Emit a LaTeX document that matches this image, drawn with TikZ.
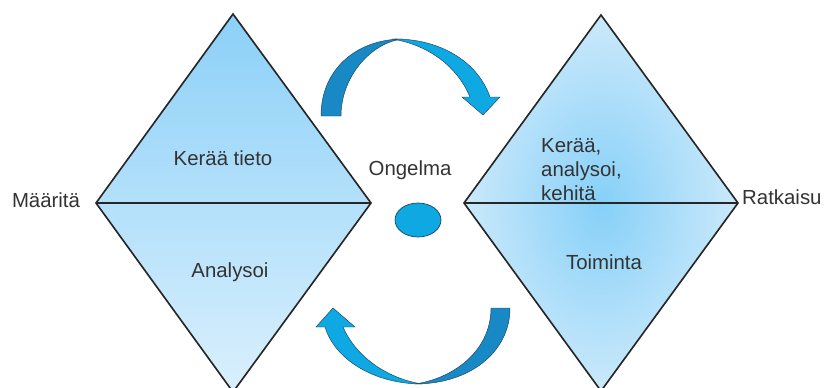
\documentclass[tikz,border=0pt]{standalone}
\usepackage{fontspec}
\setmainfont{Liberation Sans}
\usetikzlibrary{shapes.geometric}
\definecolor{myblue}{HTML}{0EA8E2}
\definecolor{mydarkblue}{HTML}{1889C4}
\definecolor{myedge}{HTML}{1D4460}
\definecolor{toplight}{HTML}{8CD0F8}
\definecolor{botlight}{HTML}{DAF0FD}
\definecolor{midlight}{HTML}{86D0F8}
\definecolor{rimlight}{HTML}{CBE9FB}
\tikzset{
  lab/.style={font=\fontsize{17.4}{20.4}\selectfont, inner sep=0pt, text=black!80},
  outline/.style={draw=black!85, line width=1.4pt},
  darkarrow/.style={fill=mydarkblue, draw=myedge, line width=0.4pt},
  lightarrow/.style={fill=myblue, draw=myedge, line width=0.4pt},
}
\begin{document}
\begin{tikzpicture}[x=0.3mm, y=-0.3mm]
  \useasboundingbox (0,0) rectangle (824,388);
  \begin{scope}
    \clip (0,0) rectangle (824,388);
    % left diamond
    \shade[top color=toplight, bottom color=botlight] (233,14) -- (371,203) -- (233,392) -- (96,203) -- cycle;
    \draw[outline] (233,14) -- (371,203) -- (233,392) -- (96,203) -- cycle;
    \draw[outline] (96,203) -- (371,203);
    % right diamond
    \shade[inner color=midlight, outer color=rimlight] (601,15) -- (738,203) -- (601,391) -- (464,203) -- cycle;
    \draw[outline] (601,15) -- (738,203) -- (601,391) -- (464,203) -- cycle;
    \draw[outline] (464,203) -- (738,203);
  \end{scope}

  % round arrows
  \draw[darkarrow] (321,116) .. controls (321,68) and (358,39) .. (403,39)
    .. controls (372,42) and (341,76) .. (341,116) -- cycle;
  \draw[lightarrow] (392,39) .. controls (440,38) and (478,62) .. (490,97) -- (500,97) -- (483,115)
    -- (462,97) -- (470,97) .. controls (458,68) and (430,45) .. (392,39) -- cycle;
  \draw[darkarrow] (510,308) .. controls (510,352) and (470,384) .. (415,384)
    .. controls (455,378) and (491,350) .. (491,308) -- cycle;
  \draw[lightarrow] (422,384) .. controls (375,384) and (335,360) .. (325,327) -- (316,327) -- (333,308)
    -- (355,327) -- (343,327) .. controls (355,355) and (385,378) .. (422,384) -- cycle;

  \node[ellipse, fill=myblue, draw=myedge, line width=0.6pt, minimum width=13.8mm, minimum height=10.2mm] (pallo) at (418,220) {};

  \node[lab, anchor=base] (maarita) at (46,207) {Määritä};
  \node[lab, anchor=base] (keraa) at (223,165) {Kerää tieto};
  \node[lab, anchor=base] (analysoi) at (230,277) {Analysoi};
  \node[lab, anchor=base] (ongelma) at (410,175) {Ongelma};
  \node[lab, anchor=base west, align=left] (kehita) at (541,200) {Kerää,\\analysoi,\\kehitä};
  \node[lab, anchor=base] (toiminta) at (604,269) {Toiminta};
  \node[lab, anchor=base west] (ratkaisu) at (742,204) {Ratkaisu};
\end{tikzpicture}
\end{document}
